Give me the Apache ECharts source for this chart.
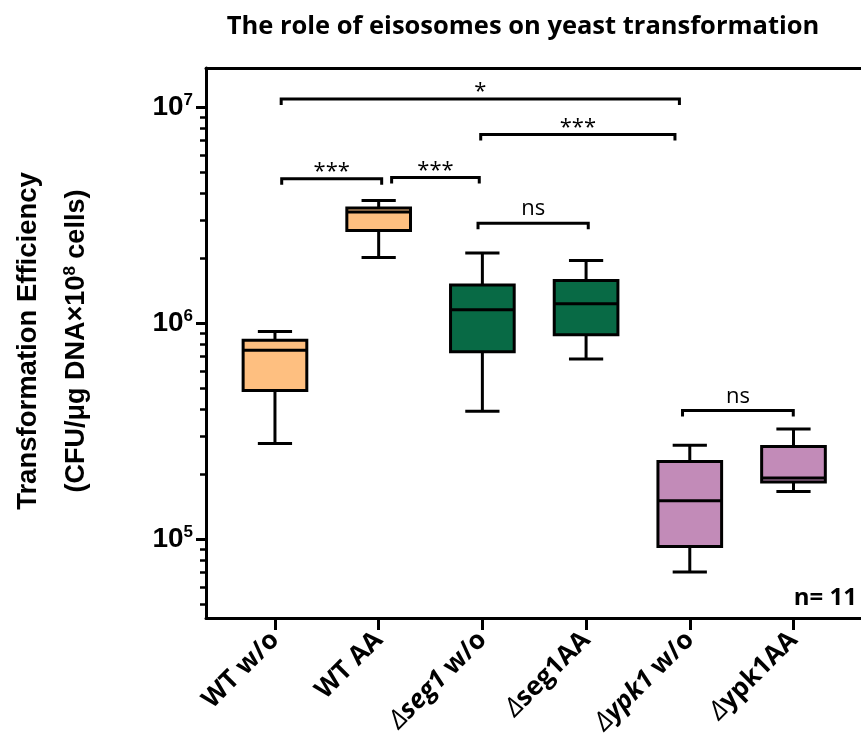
<!DOCTYPE html>
<html><head><meta charset="utf-8">
<script src="https://cdn.jsdelivr.net/npm/echarts@6/dist/echarts.min.js"></script>
<style>html,body{margin:0;padding:0;background:#fff}#c{width:861px;height:749px}</style>
</head><body><div id="c"></div>
<script>
// ---- data (raw values, CFU/µg DNA x10^8 cells) ----
const categories = ['WT w/o', 'WT AA', 'Δseg1 w/o', 'Δseg1AA', 'Δypk1 w/o', 'Δypk1AA'];
const whiskerLow  = [277000, 2012000, 390000, 681000, 70400, 166000];
const q1          = [487000, 2684000, 736000, 883000, 92400, 183600];
const median      = [747000, 3265000, 1152000, 1229000, 150400, 191600];
const q3          = [832000, 3407000, 1499000, 1575000, 228700, 268400];
const whiskerHigh = [914000, 3694000, 2110000, 1949000, 272000, 323000];

// significance brackets (category index positions, bracket height value, label)
const sigFrom  = [0.06, 0.065, 1.125, 1.984, 1.958, 3.93];
const sigTo    = [3.9, 1.029, 1.97, 3.857, 3.021, 4.998];
const sigLevel = [10900000, 4660000, 4720000, 7450000, 2900000, 393000];
const sigText  = ['*', '***', '***', '***', 'ns', 'ns'];

// axis ticks (decades)
const yMajorExponents = [5, 6, 7];
const sampleSizeText = 'n= 11';
const titleText = 'The role of eisosomes on yeast transformation';

// ---- styles ----
const groupColors = ['#FEBF80', '#FEBF80', '#086A45', '#086A45', '#C28BB8', '#C28BB8'];

const L = v => Math.log10(v);
const yMinor = [];
for (let e = 4; e <= 7; e++) for (let k = 2; k <= 9; k++) yMinor.push(e + Math.log10(k));

const boxData = categories.map((c, i) => [i, L(whiskerLow[i]), L(q1[i]), L(median[i]), L(q3[i]), L(whiskerHigh[i])]);
const sigData = sigText.map((t, i) => [sigFrom[i], sigTo[i], L(sigLevel[i])]);

function labelRich(name) {
  if (name.charAt(0) !== 'Δ') return '{n|' + name + '}';
  const rest = name.slice(1);
  const m = rest.match(/^([a-z]+\d)(.*)$/);
  if (m && m[2].indexOf('w/o') >= 0) return '{d|∆}{i|' + m[1] + '}{n|' + m[2] + '}';
  return '{d|∆}{n|' + rest + '}';
}

const chart = echarts.init(document.getElementById('c'), null, {renderer: 'canvas'});
const xMin = -0.665, xMax = 5.651;
const yMin = 4.6343, yMax = 7.1806;

chart.setOption({
  animation: false,
  backgroundColor: '#fff',
  grid: {left: 206, right: 0, top: 68, bottom: 131},
  xAxis: [{
    type: 'value', min: xMin, max: xMax, position: 'bottom',
    splitLine: {show: false},
    axisLine: {onZero: false, lineStyle: {color: '#000', width: 3}},
    axisTick: {customValues: [0, 1, 2, 3, 4, 5], length: 12, lineStyle: {color: '#000', width: 3}},
    axisLabel: {
      customValues: [0, 1, 2, 3, 4, 5], rotate: 45, margin: 18,
      formatter: v => labelRich(categories[Math.round(v)]),
      rich: {
        n: {fontFamily: 'Open Sans', fontWeight: 'bold', fontSize: 26, color: '#000'},
        i: {fontFamily: 'Open Sans', fontWeight: 'bold', fontStyle: 'italic', fontSize: 26, color: '#000'},
        d: {fontFamily: 'Open Sans', fontWeight: 'normal', fontStyle: 'italic', fontSize: 26, color: '#000'}
      }
    }
  }, {
    type: 'value', min: xMin, max: xMax, position: 'top',
    splitLine: {show: false},
    axisLine: {onZero: false, lineStyle: {color: '#000', width: 3}},
    axisTick: {show: false}, axisLabel: {show: false}
  }],
  yAxis: [{
    type: 'value', min: yMin, max: yMax, position: 'left',
    splitLine: {show: false},
    axisLine: {show: true, onZero: false, lineStyle: {color: '#000', width: 3}},
    axisTick: {customValues: yMajorExponents, length: 10, lineStyle: {color: '#000', width: 3}},
    axisLabel: {
      customValues: yMajorExponents, margin: 13,
      formatter: v => '{b|10}{s|' + Math.round(v) + '}',
      rich: {
        b: {fontFamily: 'Liberation Sans', fontWeight: 'bold', fontSize: 28, lineHeight: 30, color: '#000'},
        s: {fontFamily: 'Liberation Sans', fontWeight: 'bold', fontSize: 17, lineHeight: 17, verticalAlign: 'top', color: '#000'}
      }
    }
  }, {
    type: 'value', min: yMin, max: yMax, position: 'left',
    splitLine: {show: false},
    axisLine: {show: false, onZero: false},
    axisTick: {customValues: yMinor, length: 6, lineStyle: {color: '#000', width: 2.5}},
    axisLabel: {show: false}
  }],
  graphic: [
    {type: 'text', x: 523, y: 27, style: {text: titleText, fontFamily: 'Open Sans', fontWeight: 'bold', fontSize: 25.5, fill: '#000', align: 'center', verticalAlign: 'middle'}},
    {type: 'text', x: 28, y: 341, rotation: Math.PI / 2, style: {text: 'Transformation Efficiency', fontFamily: 'Liberation Sans', fontWeight: 'bold', fontSize: 27.5, fill: '#000', align: 'center', verticalAlign: 'middle'}},
    {type: 'text', x: 77, y: 341, rotation: Math.PI / 2, style: {
      text: '{a|(CFU/μg DNA×10}{s|8}{a| cells)}', align: 'center', verticalAlign: 'middle',
      rich: {
        a: {fontFamily: 'Liberation Sans', fontWeight: 'bold', fontSize: 27, lineHeight: 30, fill: '#000'},
        s: {fontFamily: 'Liberation Sans', fontWeight: 'bold', fontSize: 17, lineHeight: 17, verticalAlign: 'top', fill: '#000'}
      }}},
    {type: 'text', x: 857, y: 598, style: {text: sampleSizeText, fontFamily: 'Open Sans', fontWeight: 'bold', fontSize: 24, fill: '#000', align: 'right', verticalAlign: 'middle'}}
  ],
  series: [{
    type: 'custom',
    coordinateSystem: 'cartesian2d',
    encode: {x: 0, y: [1, 2, 3, 4, 5]},
    data: boxData,
    renderItem: function (params, api) {
      const i = params.dataIndex;
      const x = api.value(0);
      const unit = api.size([1, 0])[0];
      const half = unit * 0.307, cap = unit * 0.165;
      const pLo = api.coord([x, api.value(1)]);
      const pQ1 = api.coord([x, api.value(2)]);
      const pMd = api.coord([x, api.value(3)]);
      const pQ3 = api.coord([x, api.value(4)]);
      const pHi = api.coord([x, api.value(5)]);
      const cx = pMd[0];
      const ls = {stroke: '#000', lineWidth: 3};
      return {type: 'group', children: [
        {type: 'line', shape: {x1: cx, y1: pHi[1], x2: cx, y2: pQ3[1]}, style: ls},
        {type: 'line', shape: {x1: cx, y1: pQ1[1], x2: cx, y2: pLo[1]}, style: ls},
        {type: 'line', shape: {x1: cx - cap, y1: pHi[1], x2: cx + cap, y2: pHi[1]}, style: ls},
        {type: 'line', shape: {x1: cx - cap, y1: pLo[1], x2: cx + cap, y2: pLo[1]}, style: ls},
        {type: 'rect', shape: {x: cx - half, y: pQ3[1], width: 2 * half, height: pQ1[1] - pQ3[1]}, style: {fill: groupColors[i], stroke: '#000', lineWidth: 3}},
        {type: 'line', shape: {x1: cx - half, y1: pMd[1], x2: cx + half, y2: pMd[1]}, style: ls}
      ]};
    }
  }, {
    type: 'custom',
    coordinateSystem: 'cartesian2d',
    encode: {x: [0, 1], y: 2},
    data: sigData,
    renderItem: function (params, api) {
      const i = params.dataIndex;
      const p1 = api.coord([api.value(0), api.value(2)]);
      const p2 = api.coord([api.value(1), api.value(2)]);
      const drop = 6;
      const isStar = sigText[i].charAt(0) === '*';
      return {type: 'group', children: [
        {type: 'polyline', shape: {points: [[p1[0], p1[1] + drop], [p1[0], p1[1]], [p2[0], p2[1]], [p2[0], p2[1] + drop]]}, style: {stroke: '#000', lineWidth: 3, fill: null}},
        {type: 'text', x: (p1[0] + p2[0]) / 2, y: p1[1] + (isStar ? 4 : -3), style: {text: sigText[i], fontFamily: 'Open Sans', fontSize: 22, fill: '#000', align: 'center', verticalAlign: 'bottom'}}
      ]};
    }
  }]
});
</script>
</body></html>
